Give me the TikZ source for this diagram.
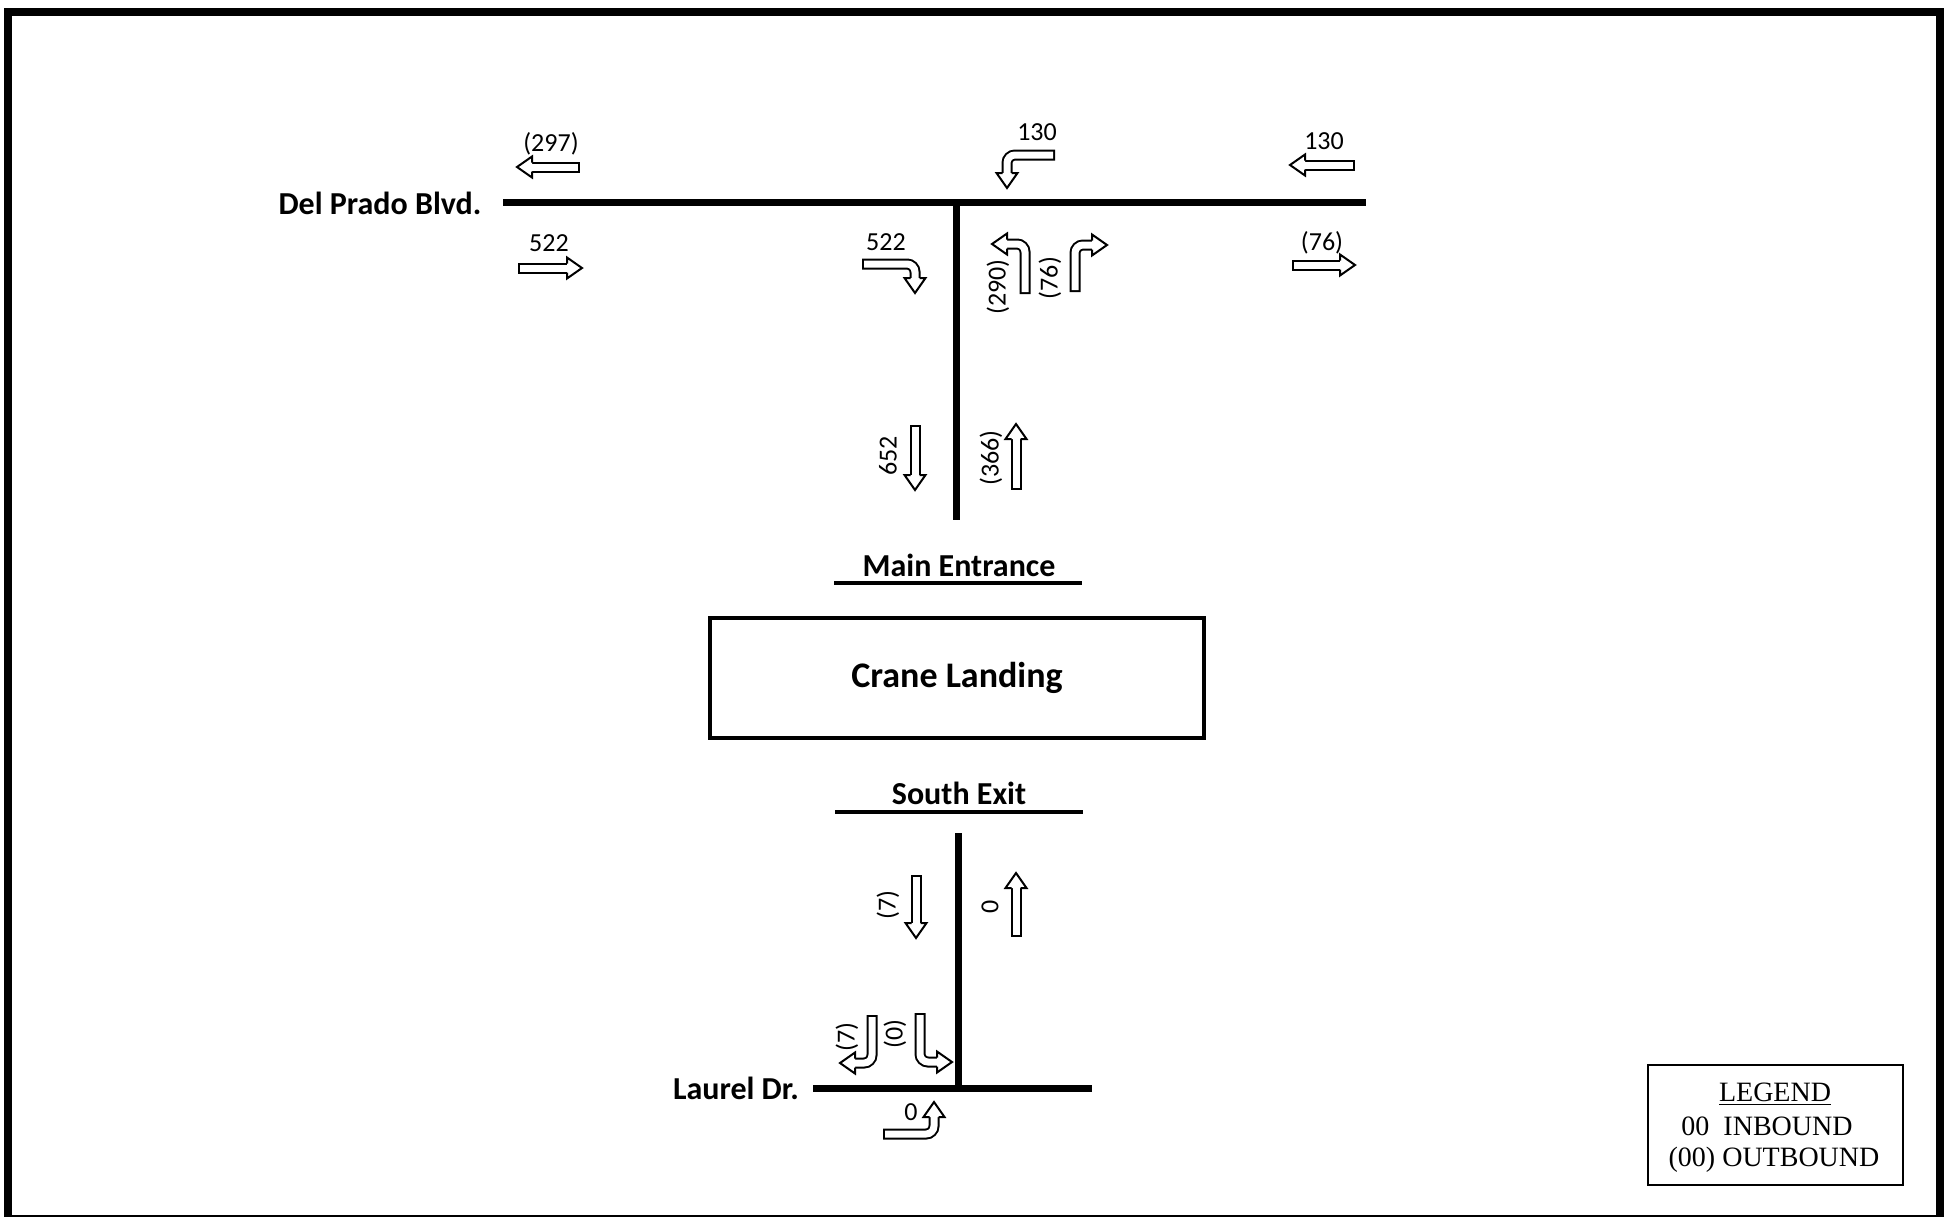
\documentclass[tikz,border=0pt]{standalone}
\usepackage{fontspec}
\setmainfont{Carlito}
\newfontfamily\legendfont{Liberation Serif}
\begin{document}
\begin{tikzpicture}[x=0.5pt,y=-0.5pt,
  road/.style={line width=3.5pt},
  uline/.style={line width=2pt},
  shaft/.style={line width=1pt, double=white, double distance=3.5pt, line cap=rect, rounded corners=4pt},
  num/.style={font=\fontsize{13}{13}\selectfont, inner sep=0pt},
  street/.style={font=\bfseries\fontsize{16}{16}\selectfont, inner sep=0pt},
  place/.style={font=\bfseries\fontsize{16}{16}\selectfont, inner sep=0pt},
  legtext/.style={inner sep=0pt, font=\legendfont\fontsize{14}{14}\selectfont},
  bhead/.pic={\fill[white] (0,-10.5)--(15,0)--(0,10.5)--cycle;
     \draw[line width=1pt,line join=miter] (0,-4.5)--(0,-10.5)--(15,0)--(0,10.5)--(0,4.5);}]
\useasboundingbox (0,0) rectangle (1952,1216);
% frame
\draw[line width=4pt] (8,1219) -- (8,12) -- (1940,12) -- (1940,1219);
\draw[line width=4pt] (8,1219) -- (1940,1219);
% roads
\draw[road] (503,202) -- (1366,202);
\draw[road] (956,202) -- (956,520);
\draw[road] (958,833) -- (958,1088);
\draw[road] (813,1088) -- (1092,1088);
% labels
\node[street] (delprado) at (380,203) {Del Prado Blvd.};
\node[street] (laurel) at (736,1088) {Laurel Dr.};
\node[place] (mainent) at (959,565) {Main Entrance};
\draw[uline] (834,583) -- (1082,583);
\node[place] (southex) at (959,793) {South Exit};
\draw[uline] (835,812) -- (1083,812);
\node[draw, line width=2pt, minimum width=247pt, minimum height=60pt, font=\bfseries\fontsize{18}{18}\selectfont] (crane) at (957,678) {Crane Landing};
% legend
\node[draw, line width=1.2pt, minimum width=127.5pt, minimum height=60pt] (legendbox) at (1775.5,1125) {};
\node[legtext] (legtitle) at (1775,1094) {\underline{LEGEND}};
\node[legtext] (legin) at (1767,1126) {00\ \ INBOUND};
\node[legtext] (legout) at (1774,1160) {(00) OUTBOUND};
% arrows on Del Prado
\draw[shaft] (574.5,167) -- (532,167); \pic[rotate=180] at (532,167) {bhead};
\draw[shaft] (523.5,268) -- (567,268); \pic at (567,268) {bhead};
\draw[shaft] (867.5,264) -- (915,264) -- (915,278); \pic[rotate=-90] at (915,278) {bhead};
\draw[shaft] (1049.5,155) -- (1007,155) -- (1007,173); \pic[rotate=-90] at (1007,173) {bhead};
\draw[shaft] (1349.5,165) -- (1305,165); \pic[rotate=180] at (1305,165) {bhead};
\draw[shaft] (1297.5,265) -- (1340,265); \pic at (1340,265) {bhead};
\draw[shaft] (1025,288.5) -- (1025,244) -- (1007,244); \pic[rotate=180] at (1007,244) {bhead};
\draw[shaft] (1075,286.5) -- (1075,245) -- (1092,245); \pic at (1092,245) {bhead};
\draw[shaft] (915,430.5) -- (915,475); \pic[rotate=-90] at (915,475) {bhead};
\draw[shaft] (1016,484.5) -- (1016,439); \pic[rotate=90] at (1016,439) {bhead};
% arrows near Laurel
\draw[shaft] (916,880.5) -- (916,923); \pic[rotate=-90] at (916,923) {bhead};
\draw[shaft] (1016,931.5) -- (1016,888); \pic[rotate=90] at (1016,888) {bhead};
\draw[shaft] (872,1020.5) -- (872,1063) -- (855,1063); \pic[rotate=180] at (855,1063) {bhead};
\draw[shaft] (920,1018.5) -- (920,1062) -- (937,1062); \pic at (937,1062) {bhead};
\draw[shaft] (888.5,1134) -- (934,1134) -- (934,1117); \pic[rotate=90] at (934,1117) {bhead};
% numbers
\node[num] (n297) at (551,144) {(297)};
\node[num] (n522a) at (549,243) {522};
\node[num] (n522b) at (886,242) {522};
\node[num] (n130a) at (1037,132) {130};
\node[num] (n130b) at (1324,141) {130};
\node[num] (n76a) at (1322,243) {(76)};
\node[num, rotate=90] (n290) at (998,287) {(290)};
\node[num, rotate=90] (n76b) at (1050,278) {(76)};
\node[num, rotate=90] (n652) at (888,456) {652};
\node[num, rotate=90] (n366) at (991,458) {(366)};
\node[num, rotate=90] (n7a) at (888,905) {(7)};
\node[num, rotate=90] (n0a) at (990,907) {0};
\node[num, rotate=90] (n7b) at (847,1037) {(7)};
\node[num, rotate=90] (n0b) at (895,1034) {(0)};
\node[num] (n0c) at (911,1112) {0};
\end{tikzpicture}
\end{document}
